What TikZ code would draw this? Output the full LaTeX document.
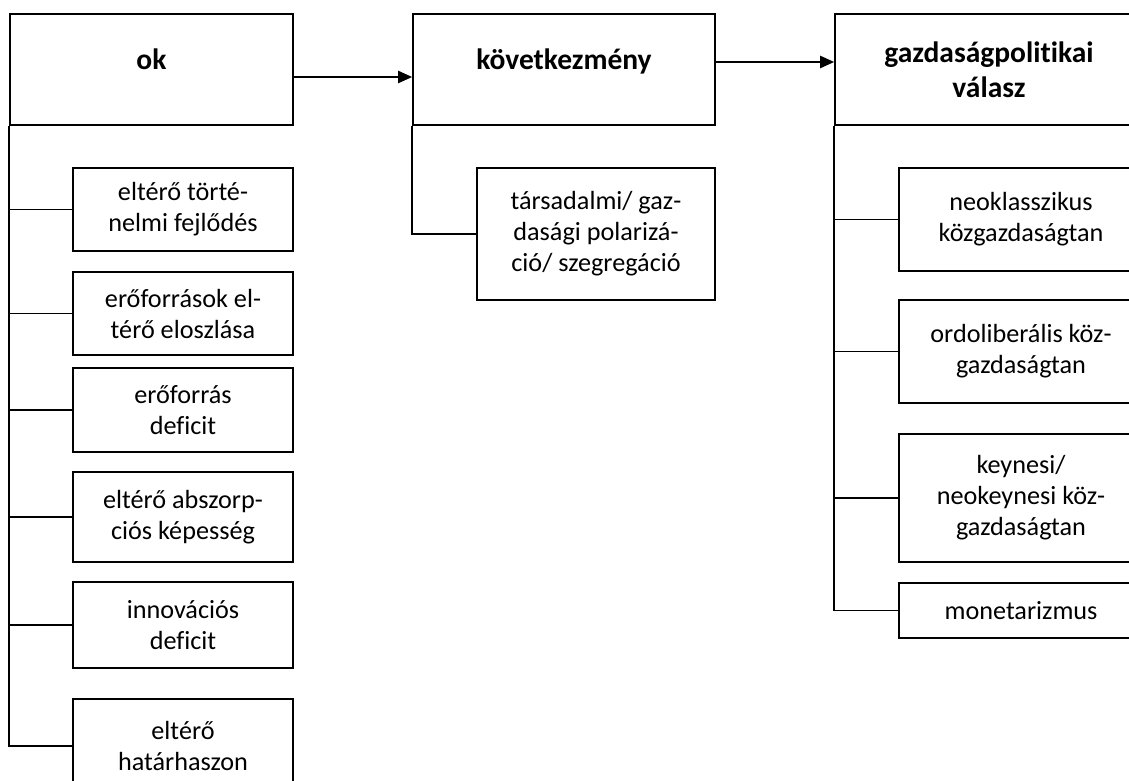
\documentclass[tikz,border=0pt]{standalone}
\usepackage{fontspec}
\setmainfont{Carlito}[Ligatures=CommonOff]
\usetikzlibrary{arrows.meta}
\begin{document}
\begin{tikzpicture}[x=1pt,y=-1pt,
  box/.style={draw, line width=1.6pt, rectangle, align=center, inner sep=0pt,
    font=\fontsize{26.2}{31}\selectfont},
  titlebox/.style={box, font=\fontsize{29.5}{35}\selectfont\bfseries},
  link/.style={line width=1.6pt},
  arr/.style={line width=2.2pt, -{Triangle[length=14pt,width=12pt]}}]
\useasboundingbox (0,0) rectangle (1129,781);
\clip (0,0) rectangle (1129,781);
% titles
\node[titlebox, minimum width=283pt, minimum height=111pt] (ok) at (151.5,69.5) {\raisebox{0pt}[0pt][0pt]{ok}};
\node[titlebox, minimum width=302pt, minimum height=111pt] (kov) at (564,69.5) {\raisebox{0pt}[0pt][0pt]{következmény}};
\node[titlebox, minimum width=308pt, minimum height=111pt] (gp) at (989,69.5) {gazdaságpolitikai\\válasz};
% left children
\begin{scope}[every node/.style={box, minimum width=220pt}]
\node[minimum height=83pt] (c1) at (183,209.5) {eltérő törté-\\nelmi fejlődés};
\node[minimum height=83pt] (c2) at (183,313.5) {erőforrások el-\\térő eloszlása};
\node[minimum height=84pt] (c3) at (183,410) {erőforrás\\deficit};
\node[minimum height=90pt] (c4) at (183,517) {eltérő abszorp-\\ciós képesség};
\node[minimum height=86pt] (c5) at (183,625) {innovációs\\deficit};
\node[minimum height=94pt] (c6) at (183,746) {eltérő\\határhaszon};
\end{scope}
% middle child
\node[box, minimum width=238pt, minimum height=132pt] (m1) at (596,234) {társadalmi/ gaz-\\dasági polarizá-\\ció/ szegregáció};
% right children
\begin{scope}[every node/.style={box, minimum width=244pt}]
\node[minimum height=103pt] (r1) at (1021,219.5) {neoklasszikus\\közgazdaságtan};
\node[minimum height=103pt] (r2) at (1021,351.5) {ordoliberális köz-\\gazdaságtan};
\node[minimum height=128pt] (r3) at (1021,498) {keynesi/\\neokeynesi köz-\\gazdaságtan};
\node[minimum height=55pt] (r4) at (1021,610.5) {monetarizmus};
\end{scope}
% arrows
\draw[arr] (ok.east |- 0,77) -- (kov.west |- 0,77);
\draw[arr] (kov.east |- 0,62) -- (gp.west |- 0,62);
% connectors
\foreach \c in {c1,c2,c3,c4,c5,c6} \draw[link] (ok.south west) |- (\c.west);
\draw[link] (kov.south west) |- (m1.west);
\foreach \c in {r1,r2,r3,r4} \draw[link] (gp.south west) |- (\c.west);
\end{tikzpicture}
\end{document}
